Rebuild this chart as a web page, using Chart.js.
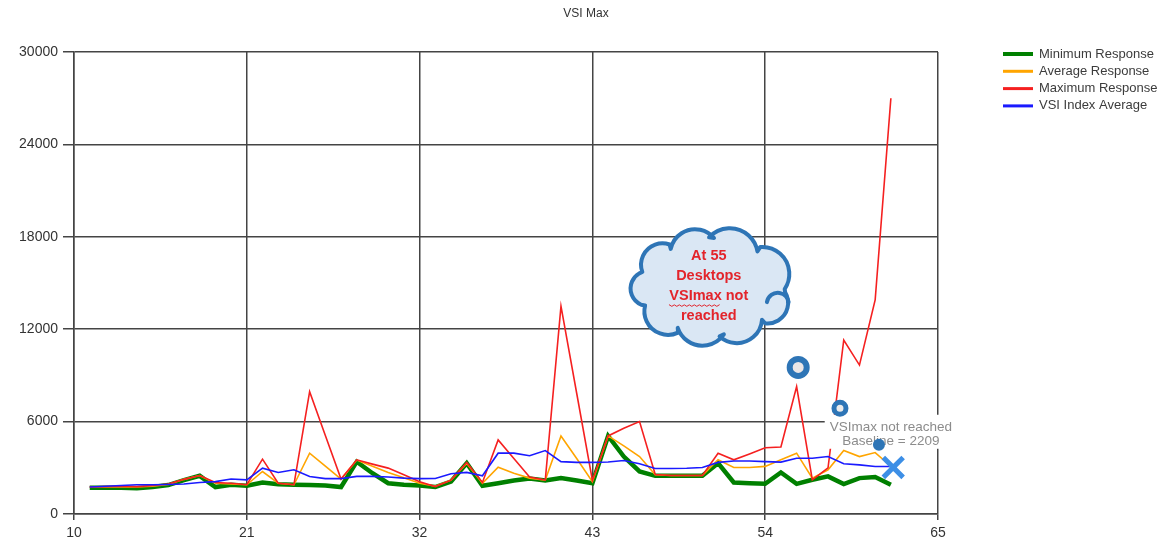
<!DOCTYPE html>
<html>
<head>
<meta charset="utf-8">
<title>VSI Max</title>
<script src="https://cdn.jsdelivr.net/npm/chart.js@4.4.1/dist/chart.umd.min.js"></script>
<style>
  html, body { margin: 0; padding: 0; background: #fff; }
  #wrap { width: 1172px; height: 543px; }
</style>
</head>
<body>
<div id="wrap"><canvas id="vsiChart"></canvas></div>
<script>
// active sessions on the x axis
const sessions = [11, 12, 13, 14, 15, 16, 17, 18, 19, 20, 21, 22, 23, 24, 25, 26, 27, 28, 29, 30,
  31, 32, 33, 34, 35, 36, 37, 38, 39, 40, 41, 42, 43, 44, 45, 46, 47, 48, 49, 50,
  51, 52, 53, 54, 55, 56, 57, 58, 59, 60, 61, 62];

const minResponse = [1700, 1700, 1700, 1680, 1750, 1880, 2200, 2480, 1750, 1900,
  1830, 2050, 1930, 1900, 1880, 1850, 1750, 3400, 2650, 2000,
  1900, 1850, 1750, 2110, 3300, 1830, 2000, 2180, 2310, 2180,
  2330, 2180, 2000, 5070, 3730, 2760, 2480, 2480, 2480, 2480,
  3300, 2050, 2000, 1960, 2700, 1960, 2220, 2440, 1940, 2330, 2400, 1900];

const avgResponse = [1750, 1750, 1780, 1750, 1800, 1920, 2250, 2500, 2000, 1950,
  1900, 2760, 2000, 1900, 3950, 3110, 2270, 3500, 3100, 2700,
  2350, 2000, 1800, 2200, 3300, 2000, 3040, 2650, 2330, 2200,
  5070, 3600, 2100, 5070, 4420, 3730, 2550, 2500, 2500, 2500,
  3520, 3020, 3020, 3090, 3520, 3950, 2330, 2870, 4120, 3730, 3990, 3100];

const maxResponse = [1750, 1780, 1800, 1780, 1850, 1950, 2250, 2500, 2050, 2000,
  1900, 3560, 2000, 1900, 7940, 5100, 2270, 3520, 3240, 2980,
  2550, 2100, 1780, 2200, 3350, 2050, 4810, 3600, 2400, 2200,
  13500, 7840, 2180, 5070, 5570, 6000, 2560, 2500, 2500, 2500,
  3950, 3520, 3900, 4300, 4350, 8270, 2220, 3000, 11300, 9670, 13900, 27000];

const vsiIndexAvg = [1750, 1800, 1850, 1900, 1900, 1920, 1950, 2050, 2100, 2270,
  2220, 2980, 2700, 2870, 2440, 2300, 2300, 2440, 2440, 2400,
  2330, 2300, 2310, 2610, 2700, 2480, 3950, 3950, 3780, 4120,
  3400, 3350, 3350, 3380, 3470, 3260, 2950, 2950, 2970, 3020,
  3350, 3440, 3440, 3400, 3370, 3620, 3620, 3730, 3260, 3190, 3080, 3080];

const seriesNames = ['Minimum Response', 'Average Response', 'Maximum Response', 'VSI Index Average'];
const seriesColors = ['#008000', '#ffa500', '#f52020', '#1a1aff'];

const xTicks = [10, 21, 32, 43, 54, 65];
const yTicks = [0, 6000, 12000, 18000, 24000, 30000];

// marker points (session, response)
const bigRing = [{ x: 56.1, y: 9520 }];
const smallRing = [{ x: 58.76, y: 6870 }];
const baseDot = [{ x: 61.24, y: 4490 }];
const baseCross = [{ x: 62.15, y: 3020 }];

const noteLines = ['VSImax not reached', 'Baseline = 2209'];
const cloudLines = ['At 55', 'Desktops', 'VSImax not', 'reached'];

const FONT = '"Liberation Sans", Arial, sans-serif';
Chart.defaults.font.family = FONT;

function toPoints(values) {
  return sessions.map((s, i) => ({ x: s, y: values[i] }));
}

// grey note with white box behind it, drawn after the last line so markers sit on top
const notePlugin = {
  id: 'notePlugin',
  afterDatasetDraw(chart, args) {
    if (args.index !== 3) return;
    const ctx = chart.ctx;
    const cx = chart.scales.x.getPixelForValue(62);
    const cy = chart.scales.y.getPixelForValue(5600);
    ctx.save();
    ctx.font = '13.5px ' + FONT;
    const w = Math.max(...noteLines.map(t => ctx.measureText(t).width)) + 10;
    ctx.fillStyle = '#fff';
    ctx.fillRect(cx - w / 2, cy - 13, w, 34);
    ctx.fillStyle = '#8c8c8c';
    ctx.textAlign = 'center';
    ctx.textBaseline = 'middle';
    noteLines.forEach((t, i) => ctx.fillText(t, cx, cy + i * 14));
    ctx.restore();
  }
};

// callout cloud
const cloudPlugin = {
  id: 'cloudPlugin',
  afterDatasetsDraw(chart) {
    const ctx = chart.ctx;
    const cx = chart.scales.x.getPixelForValue(50.6);
    const cy = chart.scales.y.getPixelForValue(14750);
    const rx = 76, ry = 47;
    const angles = [5, 45, 82, 118, 158, 197, 235, 270, 310].map(a => a * Math.PI / 180);
    const pts = angles.map(a => [cx + rx * Math.cos(a), cy + ry * Math.sin(a)]);
    ctx.save();
    ctx.lineJoin = 'round';
    ctx.beginPath();
    for (let i = 0; i < pts.length; i++) {
      const p1 = pts[i], p2 = pts[(i + 1) % pts.length];
      const mx = (p1[0] + p2[0]) / 2, my = (p1[1] + p2[1]) / 2;
      const c = Math.hypot(p2[0] - p1[0], p2[1] - p1[1]);
      const R = c * 0.56;
      const d = Math.sqrt(R * R - c * c / 4);
      // push the arc centre toward the cloud centre so the bump bulges outward
      const nx = cx - mx, ny = cy - my, nl = Math.hypot(nx, ny);
      const ox = mx + nx / nl * d, oy = my + ny / nl * d;
      const a1 = Math.atan2(p1[1] - oy, p1[0] - ox);
      const a2 = Math.atan2(p2[1] - oy, p2[0] - ox);
      ctx.arc(ox, oy, R, a1, a2, false);
    }
    ctx.closePath();
    ctx.fillStyle = '#dae7f4';
    ctx.fill();
    ctx.lineWidth = 4;
    ctx.strokeStyle = '#2e75b6';
    ctx.stroke();
    // little curl on the right side
    ctx.lineCap = 'round';
    ctx.beginPath();
    ctx.arc(cx + 66, cy + 17, 11, 1.05 * Math.PI, 1.95 * Math.PI, false);
    ctx.stroke();

    ctx.font = 'bold 14.5px ' + FONT;
    ctx.fillStyle = '#e3242b';
    ctx.textAlign = 'center';
    ctx.textBaseline = 'middle';
    const tx = cx - 3;
    cloudLines.forEach((t, i) => ctx.fillText(t, tx, cy - 31 + i * 20));
    // spell-check squiggle under "VSImax"
    const full = ctx.measureText(cloudLines[2]).width;
    const word = ctx.measureText('VSImax').width;
    let sx = tx - full / 2;
    const sy = cy - 31 + 2 * 20 + 9;
    ctx.beginPath();
    ctx.lineWidth = 1;
    ctx.strokeStyle = '#e3242b';
    ctx.moveTo(sx, sy);
    for (let k = 0; sx + 2.5 <= tx - full / 2 + word; k++) {
      sx += 2.5;
      ctx.lineTo(sx, sy + (k % 2 === 0 ? 1.5 : 0));
    }
    ctx.stroke();
    ctx.restore();
  }
};

// title centred on the page and legend on the right
const legendPlugin = {
  id: 'legendPlugin',
  afterDraw(chart) {
    const ctx = chart.ctx;
    ctx.save();
    ctx.font = '12px ' + FONT;
    ctx.fillStyle = '#333';
    ctx.textAlign = 'center';
    ctx.textBaseline = 'middle';
    ctx.fillText('VSI Max', chart.width / 2, 14);

    ctx.font = '13px ' + FONT;
    ctx.textAlign = 'left';
    seriesNames.forEach((name, i) => {
      const y = 54 + i * 17.3;
      ctx.beginPath();
      ctx.strokeStyle = seriesColors[i];
      ctx.lineWidth = i === 0 ? 4 : 3;
      ctx.moveTo(1003, y);
      ctx.lineTo(1033, y);
      ctx.stroke();
      ctx.fillStyle = '#3c3c3c';
      ctx.fillText(name, 1039, y);
    });
    ctx.restore();
  }
};

const lineWidths = [4.5, 1.6, 1.6, 1.6];
const lineData = [minResponse, avgResponse, maxResponse, vsiIndexAvg];

const datasets = lineData.map((vals, i) => ({
  label: seriesNames[i],
  data: toPoints(vals),
  borderColor: seriesColors[i],
  borderWidth: lineWidths[i],
  pointRadius: 0,
  fill: false,
  order: 4 - i
}));

datasets.push(
  { label: 'ring', data: bigRing, showLine: false, pointRadius: 8.5, borderWidth: 6,
    borderColor: '#2e75b6', backgroundColor: '#ebe6e6', order: 0 },
  { label: 'ring2', data: smallRing, showLine: false, pointRadius: 6, borderWidth: 5,
    borderColor: '#2e75b6', backgroundColor: '#ebebeb', order: 0 },
  { label: 'dot', data: baseDot, showLine: false, pointRadius: 6, borderWidth: 0,
    borderColor: '#2e75b6', backgroundColor: '#2e75b6', order: 0 },
  { label: 'cross', data: baseCross, showLine: false, pointStyle: 'crossRot', pointRadius: 14,
    borderWidth: 5, borderColor: '#3d8fe6', backgroundColor: '#3d8fe6', order: 0 }
);

new Chart(document.getElementById('vsiChart'), {
  type: 'line',
  data: { datasets },
  options: {
    responsive: true,
    maintainAspectRatio: false,
    animation: false,
    layout: { padding: { left: 0, right: 234, top: 52, bottom: 0 } },
    elements: { line: { tension: 0 } },
    plugins: {
      legend: { display: false },
      tooltip: { enabled: false },
      title: { display: false }
    },
    scales: {
      x: {
        type: 'linear',
        min: 10,
        max: 65,
        afterBuildTicks: s => { s.ticks = xTicks.map(v => ({ value: v })); },
        afterFit: s => { s.height = 29; },
        grid: { color: '#444', lineWidth: 1.5, tickLength: 6 },
        border: { color: '#444', width: 1.5 },
        ticks: { color: '#333', font: { size: 14 }, padding: 5, maxRotation: 0, autoSkip: false,
          callback: v => String(v) }
      },
      y: {
        min: 0,
        max: 30000,
        afterBuildTicks: s => { s.ticks = yTicks.map(v => ({ value: v })); },
        afterFit: s => { s.width = 74; },
        grid: { color: '#444', lineWidth: 1.5, tickLength: 11 },
        border: { color: '#444', width: 1.5 },
        ticks: { color: '#333', font: { size: 14 }, padding: 5, callback: v => String(v) }
      }
    }
  },
  plugins: [notePlugin, cloudPlugin, legendPlugin]
});
</script>
</body>
</html>
